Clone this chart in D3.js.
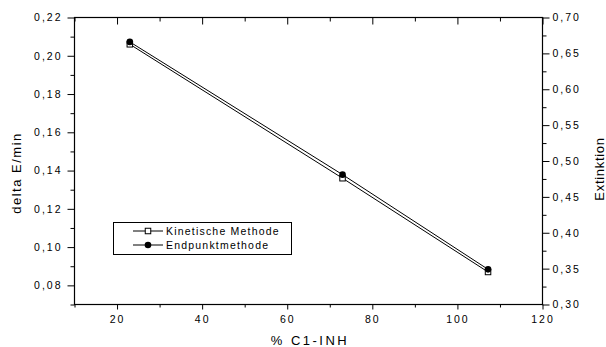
<!DOCTYPE html>
<html>
<head>
<meta charset="utf-8">
<script src="https://cdn.jsdelivr.net/npm/d3@7"></script>
<style>
  html, body { margin: 0; padding: 0; background: #fff; }
  svg { display: block; font-family: "Liberation Sans", Arial, sans-serif; }
  .tick text { fill: #000; }
</style>
</head>
<body>
<svg id="chart" width="606" height="347"></svg>
<script>
// Concentration (% C1-INH) and the two measurement methods
const concentration = [23, 73, 107.2];
const kineticValues = [0.206, 0.136, 0.087];   // delta E/min, left axis
const endpointValues = [0.666, 0.481, 0.349];  // Extinktion, right axis

const xMajorTicks = [20, 40, 60, 80, 100, 120];
const xMinorTicks = [10, 30, 50, 70, 90, 110];
const leftMajorTicks = [0.08, 0.10, 0.12, 0.14, 0.16, 0.18, 0.20, 0.22];
const leftMinorTicks = [0.07, 0.09, 0.11, 0.13, 0.15, 0.17, 0.19, 0.21];
const rightMajorTicks = [0.30, 0.35, 0.40, 0.45, 0.50, 0.55, 0.60, 0.65, 0.70];
const rightMinorTicks = [0.325, 0.375, 0.425, 0.475, 0.525, 0.575, 0.625, 0.675];

const seriesNames = ["Kinetische Methode", "Endpunktmethode"];

const svg = d3.select("#chart");
const L = 74.5, R = 542.5, T = 17.5, B = 304.5;

const x = d3.scaleLinear().domain([10, 120]).range([L, R]);
const yLeft = d3.scaleLinear().domain([0.07, 0.22]).range([B, T]);
const yRight = d3.scaleLinear().domain([0.30, 0.70]).range([B, T]);

const comma = d => d3.format(".2f")(d).replace(".", ",");

function styleAxis(g) {
  g.select(".domain").remove();
  g.selectAll(".tick line").attr("stroke", "#000").attr("stroke-width", 1);
  g.selectAll(".tick text")
    .attr("font-size", 10.5)
    .style("letter-spacing", "2px");
}

// bottom axis
svg.append("g").attr("transform", `translate(0,${B})`)
  .call(d3.axisBottom(x).tickValues(xMajorTicks).tickSize(5).tickPadding(6).tickFormat(d3.format("d")))
  .call(styleAxis);
svg.append("g").attr("transform", `translate(0,${B})`)
  .call(d3.axisBottom(x).tickValues(xMinorTicks).tickSize(3).tickFormat(""))
  .call(styleAxis);

// top axis: inward ticks only
svg.append("g").attr("transform", `translate(0,${T})`)
  .call(d3.axisBottom(x).tickValues(xMajorTicks).tickSize(7).tickFormat(""))
  .call(styleAxis);
svg.append("g").attr("transform", `translate(0,${T})`)
  .call(d3.axisBottom(x).tickValues(xMinorTicks).tickSize(4).tickFormat(""))
  .call(styleAxis);

// left axis
svg.append("g").attr("transform", `translate(${L},0)`)
  .call(d3.axisLeft(yLeft).tickValues(leftMajorTicks).tickSize(7).tickPadding(5).tickFormat(comma))
  .call(styleAxis);
svg.append("g").attr("transform", `translate(${L},0)`)
  .call(d3.axisLeft(yLeft).tickValues(leftMinorTicks).tickSize(4).tickFormat(""))
  .call(styleAxis);

// right axis
svg.append("g").attr("transform", `translate(${R},0)`)
  .call(d3.axisRight(yRight).tickValues(rightMajorTicks).tickSize(7).tickPadding(3).tickFormat(comma))
  .call(styleAxis);
svg.append("g").attr("transform", `translate(${R},0)`)
  .call(d3.axisRight(yRight).tickValues(rightMinorTicks).tickSize(4).tickFormat(""))
  .call(styleAxis);

// frame
svg.append("rect")
  .attr("x", L).attr("y", T).attr("width", R - L).attr("height", B - T)
  .attr("fill", "none").attr("stroke", "#000").attr("stroke-width", 1.2);

// axis titles
svg.append("text")
  .attr("x", 310).attr("y", 345)
  .attr("text-anchor", "middle").attr("font-size", 13)
  .style("letter-spacing", "2.5px")
  .text("% C1-INH");
svg.append("text")
  .attr("transform", "translate(21,173) rotate(-90)")
  .attr("text-anchor", "middle").attr("font-size", 13)
  .style("letter-spacing", "1.5px")
  .text("delta E/min");
svg.append("text")
  .attr("transform", "translate(604,169) rotate(-90)")
  .attr("text-anchor", "middle").attr("font-size", 13)
  .style("letter-spacing", "0.7px")
  .text("Extinktion");

// series
const kinetic = concentration.map((c, i) => ({ x: c, y: kineticValues[i] }));
const endpoint = concentration.map((c, i) => ({ x: c, y: endpointValues[i] }));

const lineLeft = d3.line().x(d => x(d.x)).y(d => yLeft(d.y));
const lineRight = d3.line().x(d => x(d.x)).y(d => yRight(d.y));

svg.append("path").datum(kinetic)
  .attr("d", lineLeft).attr("fill", "none").attr("stroke", "#000").attr("stroke-width", 1);
svg.append("path").datum(endpoint)
  .attr("d", lineRight).attr("fill", "none").attr("stroke", "#000").attr("stroke-width", 1);

const sq = 5.5;
svg.append("g").selectAll("rect").data(kinetic).join("rect")
  .attr("x", d => x(d.x) - sq / 2).attr("y", d => yLeft(d.y) - sq / 2)
  .attr("width", sq).attr("height", sq)
  .attr("fill", "#fff").attr("stroke", "#000").attr("stroke-width", 1);
svg.append("g").selectAll("circle").data(endpoint).join("circle")
  .attr("cx", d => x(d.x)).attr("cy", d => yRight(d.y)).attr("r", 3.3)
  .attr("fill", "#000");

// legend
const lg = svg.append("g");
lg.append("rect")
  .attr("x", 113.5).attr("y", 222.5).attr("width", 178).attr("height", 32)
  .attr("fill", "#fff").attr("stroke", "#000").attr("stroke-width", 1);
seriesNames.forEach((name, i) => {
  const ly = 231 + i * 14;
  lg.append("line").attr("x1", 133).attr("x2", 163).attr("y1", ly).attr("y2", ly)
    .attr("stroke", "#000").attr("stroke-width", 1);
  if (i === 0) {
    lg.append("rect").attr("x", 148 - sq / 2).attr("y", ly - sq / 2)
      .attr("width", sq).attr("height", sq)
      .attr("fill", "#fff").attr("stroke", "#000").attr("stroke-width", 1);
  } else {
    lg.append("circle").attr("cx", 148).attr("cy", ly).attr("r", 3.3).attr("fill", "#000");
  }
  lg.append("text").attr("x", 166).attr("y", ly + 3.8)
    .attr("font-size", 10.5).style("letter-spacing", "1.2px")
    .text(name);
});
</script>
</body>
</html>
